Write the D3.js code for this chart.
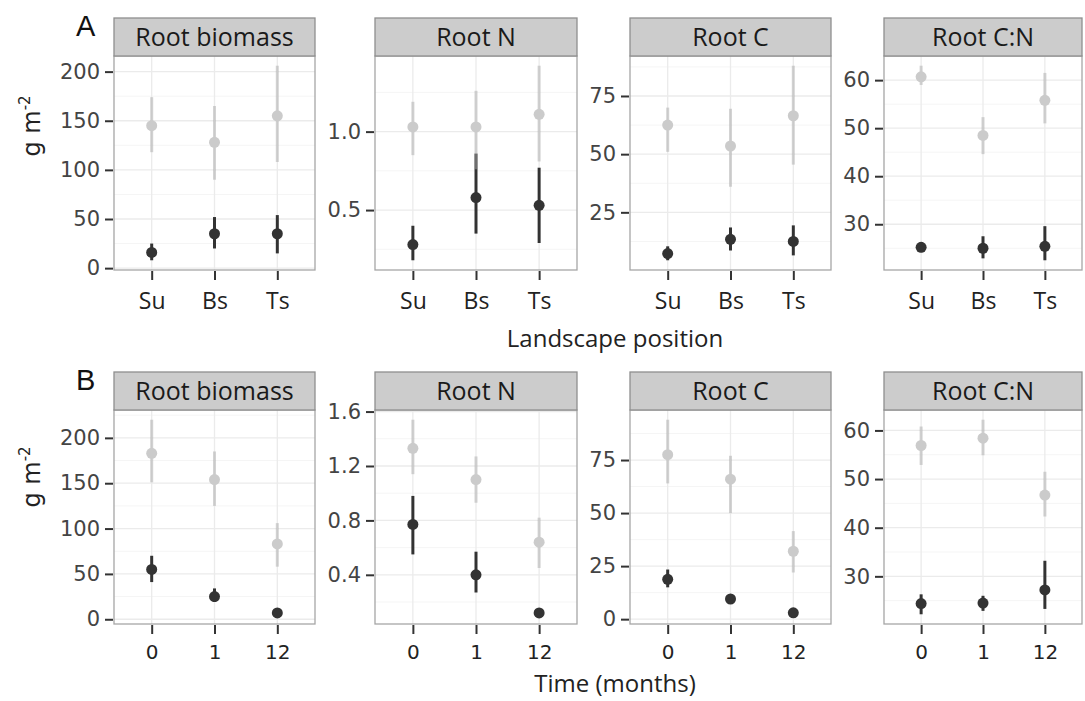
<!DOCTYPE html>
<html>
<head>
<meta charset="utf-8">
<script src="https://cdnjs.cloudflare.com/ajax/libs/d3/7.8.5/d3.min.js"></script>
<style>
  body { margin: 0; background: #fff; }
  svg { display: block; }
</style>
</head>
<body>
<div id="chart"></div>
<script>
// categories
var positions = ["Su", "Bs", "Ts"];
var times = ["0", "1", "12"];
var variables = ["Root biomass", "Root N", "Root C", "Root C:N"];

// [mean, lower, upper] per category — light series / dark series
// A: landscape position
var aBiomassLight = [[145, 118, 174], [128, 90, 165], [155, 108, 206]];
var aBiomassDark  = [[16, 8, 25], [35, 20, 52], [35, 15, 54]];
var aNLight = [[1.03, 0.85, 1.19], [1.03, 0.76, 1.26], [1.11, 0.81, 1.42]];
var aNDark  = [[0.28, 0.18, 0.40], [0.58, 0.35, 0.86], [0.53, 0.29, 0.77]];
var aCLight = [[62.5, 51, 70], [53.5, 36, 69.5], [66.5, 45.5, 88]];
var aCDark  = [[7.3, 4.4, 10.4], [13.4, 8.6, 18.5], [12.5, 6.5, 19.4]];
var aCNLight = [[60.7, 59, 63], [48.5, 44.6, 52.3], [55.8, 51, 61.5]];
var aCNDark  = [[25.2, 24.2, 26.3], [25, 22.9, 27.5], [25.4, 22.5, 29.6]];
// B: time
var bBiomassLight = [[183, 151, 220], [154, 125, 185], [83, 58, 106]];
var bBiomassDark  = [[55, 41, 70], [25, 19, 34], [7, 5.5, 8.5]];
var bNLight = [[1.33, 1.14, 1.54], [1.10, 0.93, 1.27], [0.64, 0.45, 0.82]];
var bNDark  = [[0.77, 0.55, 0.98], [0.40, 0.27, 0.57], [0.12, 0.11, 0.13]];
var bCLight = [[77.5, 64, 94], [66, 50, 77], [32, 22, 41.5]];
var bCDark  = [[18.8, 15, 23.4], [9.5, 8, 11.2], [3, 2.3, 3.7]];
var bCNLight = [[56.9, 52.9, 60.8], [58.4, 54.9, 62.2], [46.7, 42.3, 51.5]];
var bCNDark  = [[24.4, 22.2, 26.3], [24.5, 22.9, 26], [27.2, 23.3, 33.2]];

// tick values
var aTicks = [[0, 50, 100, 150, 200], [0.5, 1.0], [25, 50, 75], [30, 40, 50, 60]];
var bTicks = [[0, 50, 100, 150, 200], [0.4, 0.8, 1.2, 1.6], [0, 25, 50, 75], [30, 40, 50, 60]];

var width = 1085, height = 701;
var panelX = [[114, 315], [375, 577], [630, 831], [884, 1082]];

var rows = [
  { tag: "A", cats: positions, light: [aBiomassLight, aNLight, aCLight, aCNLight],
    dark: [aBiomassDark, aNDark, aCDark, aCNDark], ticks: aTicks,
    stripTop: 18, top: 56, bottom: 270, title: "Landscape position",
    catFont: "'Open Sans', sans-serif", catSize: 23, catY: 309, titleY: 347, ylabY: 126 },
  { tag: "B", cats: times, light: [bBiomassLight, bNLight, bCLight, bCNLight],
    dark: [bBiomassDark, bNDark, bCDark, bCNDark], ticks: bTicks,
    stripTop: 372, top: 410, bottom: 624, title: "Time (months)",
    catFont: "'DejaVu Sans', sans-serif", catSize: 20, catY: 659, titleY: 692, ylabY: 477 }
];

var svg = d3.select('#chart').append('svg')
    .attr('width', width).attr('height', height);

rows.forEach(function(row) {
  svg.append('text')
    .attr('x', 76).attr('y', row.stripTop + 18)
    .attr('font-family', "'Liberation Sans', Arial, sans-serif")
    .attr('font-size', 29).attr('fill', '#111')
    .text(row.tag);

  // y axis label
  var yl = svg.append('text')
    .attr('transform', 'translate(40,' + row.ylabY + ') rotate(-90)')
    .attr('text-anchor', 'middle')
    .attr('font-family', "'DejaVu Sans', sans-serif")
    .attr('font-size', 24).attr('fill', '#222');
  yl.append('tspan').text('g m');
  yl.append('tspan').attr('font-size', 15).attr('dy', -10).text('-2');

  svg.append('text')
    .attr('x', 615).attr('y', row.titleY)
    .attr('text-anchor', 'middle')
    .attr('font-family', "'Open Sans', sans-serif")
    .attr('font-size', 24).attr('fill', '#222')
    .text(row.title);

  variables.forEach(function(v, i) {
    var x0 = panelX[i][0], x1 = panelX[i][1];
    var light = row.light[i], dark = row.dark[i];
    var all = light.concat(dark);
    var lo = d3.min(all, function(d) { return d[1]; });
    var hi = d3.max(all, function(d) { return d[2]; });
    var pad = (hi - lo) * 0.05;

    var yScale = d3.scaleLinear()
        .domain([lo - pad, hi + pad])
        .range([row.bottom, row.top]);
    var xScale = d3.scalePoint()
        .domain(row.cats)
        .range([x0, x1])
        .padding(0.6);

    var g = svg.append('g');

    // minor grid
    var tv = row.ticks[i];
    var step = tv.length > 1 ? tv[1] - tv[0] : 0;
    var minor = [tv[0] - step / 2];
    tv.forEach(function(t) { minor.push(t + step / 2); });
    minor = minor.filter(function(m) { return m > yScale.domain()[0] && m < yScale.domain()[1]; });

    g.selectAll('.minor').data(minor).enter().append('line')
      .attr('x1', x0).attr('x2', x1)
      .attr('y1', function(d) { return yScale(d); })
      .attr('y2', function(d) { return yScale(d); })
      .attr('stroke', '#f5f5f5').attr('stroke-width', 1);

    g.selectAll('.major').data(tv).enter().append('line')
      .attr('x1', x0).attr('x2', x1)
      .attr('y1', function(d) { return yScale(d); })
      .attr('y2', function(d) { return yScale(d); })
      .attr('stroke', '#ebebeb').attr('stroke-width', 1.3);

    g.selectAll('.vgrid').data(row.cats).enter().append('line')
      .attr('x1', function(d) { return xScale(d); })
      .attr('x2', function(d) { return xScale(d); })
      .attr('y1', row.top).attr('y2', row.bottom)
      .attr('stroke', '#ebebeb').attr('stroke-width', 1.3);

    // dark series
    g.selectAll('.dbar').data(dark).enter().append('line')
      .attr('x1', function(d, j) { return xScale(row.cats[j]); })
      .attr('x2', function(d, j) { return xScale(row.cats[j]); })
      .attr('y1', function(d) { return yScale(d[1]); })
      .attr('y2', function(d) { return yScale(d[2]); })
      .attr('stroke', '#333').attr('stroke-width', 3);
    g.selectAll('.dpt').data(dark).enter().append('circle')
      .attr('cx', function(d, j) { return xScale(row.cats[j]); })
      .attr('cy', function(d) { return yScale(d[0]); })
      .attr('r', 5.5).attr('fill', '#333');

    // light series
    g.selectAll('.lbar').data(light).enter().append('line')
      .attr('x1', function(d, j) { return xScale(row.cats[j]); })
      .attr('x2', function(d, j) { return xScale(row.cats[j]); })
      .attr('y1', function(d) { return yScale(d[1]); })
      .attr('y2', function(d) { return yScale(d[2]); })
      .attr('stroke', '#aaa').attr('stroke-opacity', 0.5).attr('stroke-width', 3);
    g.selectAll('.lpt').data(light).enter().append('circle')
      .attr('cx', function(d, j) { return xScale(row.cats[j]); })
      .attr('cy', function(d) { return yScale(d[0]); })
      .attr('r', 5.5).attr('fill', '#cbcbcb');

    // panel border
    g.append('rect')
      .attr('x', x0).attr('y', row.top)
      .attr('width', x1 - x0).attr('height', row.bottom - row.top)
      .attr('fill', 'none').attr('stroke', '#a6a6a6').attr('stroke-width', 1.3);

    // strip
    g.append('rect')
      .attr('x', x0).attr('y', row.stripTop)
      .attr('width', x1 - x0).attr('height', row.top - row.stripTop)
      .attr('fill', '#cccccc').attr('stroke', '#8f8f8f').attr('stroke-width', 1.3);
    g.append('text')
      .attr('x', (x0 + x1) / 2).attr('y', row.stripTop + 28)
      .attr('text-anchor', 'middle')
      .attr('font-family', "'Open Sans', sans-serif")
      .attr('font-size', 25).attr('fill', '#1a1a1a')
      .text(v);

    // y axis
    var fmt = v === "Root N" ? d3.format('.1f') : d3.format('d');
    var yAxis = d3.axisLeft(yScale).tickValues(tv).tickFormat(fmt)
        .tickSize(8).tickPadding(5);
    var ya = svg.append('g')
      .attr('transform', 'translate(' + (x0 - 1) + ',0)')
      .call(yAxis);
    ya.select('.domain').remove();
    ya.selectAll('line').attr('stroke', '#333').attr('stroke-width', 2);
    ya.selectAll('text')
      .attr('font-family', "'DejaVu Sans', sans-serif")
      .attr('font-size', 21).attr('fill', '#444');

    // x axis
    var xAxis = d3.axisBottom(xScale).tickSize(9).tickPadding(4);
    var xa = svg.append('g')
      .attr('transform', 'translate(0,' + (row.bottom + 1) + ')')
      .call(xAxis);
    xa.select('.domain').remove();
    xa.selectAll('line').attr('stroke', '#333').attr('stroke-width', 2);
    xa.selectAll('text')
      .attr('y', null).attr('dy', null)
      .attr('transform', 'translate(0,' + (row.catY - row.bottom - 1) + ')')
      .attr('font-family', row.catFont)
      .attr('font-size', row.catSize).attr('fill', '#222');
  });
});
</script>
</body>
</html>
